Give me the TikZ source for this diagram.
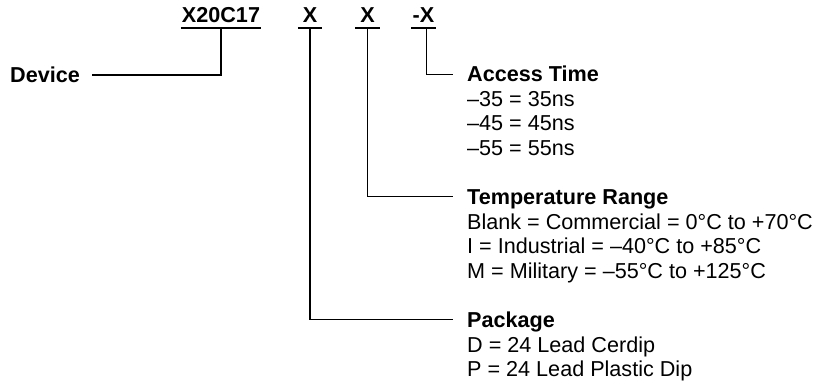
\documentclass[tikz,border=0pt]{standalone}
\usepackage{fontspec}
\setmainfont{Liberation Sans}
\usetikzlibrary{positioning}
\begin{document}
\begin{tikzpicture}[x=1pt,y=-1pt,
  every node/.style={inner sep=0pt,font=\fontsize{21.6}{24.5}\selectfont},
  field/.style={font=\fontsize{21.6}{24.5}\selectfont\bfseries,inner xsep=1pt,inner ysep=5pt,text height=15.5pt,text depth=0pt,minimum width=24pt,anchor=base},
  head/.style={font=\fontsize{21.6}{24.5}\selectfont\bfseries,text height=15.5pt,text depth=0pt,anchor=west},
  list/.style={align=left,anchor=north west},
  wire/.style={line width=1.2pt}]
\useasboundingbox (0,0) rectangle (817,386);
\node[field](C) at (221,22.7){X20C17};
\node[field](P) at (310,22.7){X};
\node[field](T) at (367.5,22.7){X};
\node[field](A) at (423.5,22.7){-X};
\node[head](Dv) at (10,75){Device};
\node[head](At) at (467,74){Access Time};
\node[below=9pt of At.south west,list](AtL){--35 = 35ns\\--45 = 45ns\\--55 = 55ns};
\node[head](Tr) at (467,196.5){Temperature Range};
\node[below=9pt of Tr.south west,list](TrL){Blank = Commercial = 0°C to +70°C\\I = Industrial = --40°C to +85°C\\M = Military = --55°C to +125°C};
\node[head](Pk) at (467,319.5){Package};
\node[below=9pt of Pk.south west,list](PkL){D = 24 Lead Cerdip\\P = 24 Lead Plastic Dip};
\foreach \f in {C,P,T,A}\draw[line width=1.6pt](\f.south west)--(\f.south east);
\draw[wire]([xshift=12pt]Dv.east)-|(C.south);
\draw[line width=0.8pt]([xshift=3pt]A.south)|-([xshift=-14pt]At.west);
\draw[wire](T.south)|-([xshift=-14pt]Tr.west);
\draw[wire](P.south)|-([xshift=-14pt]Pk.west);
\end{tikzpicture}
\end{document}
